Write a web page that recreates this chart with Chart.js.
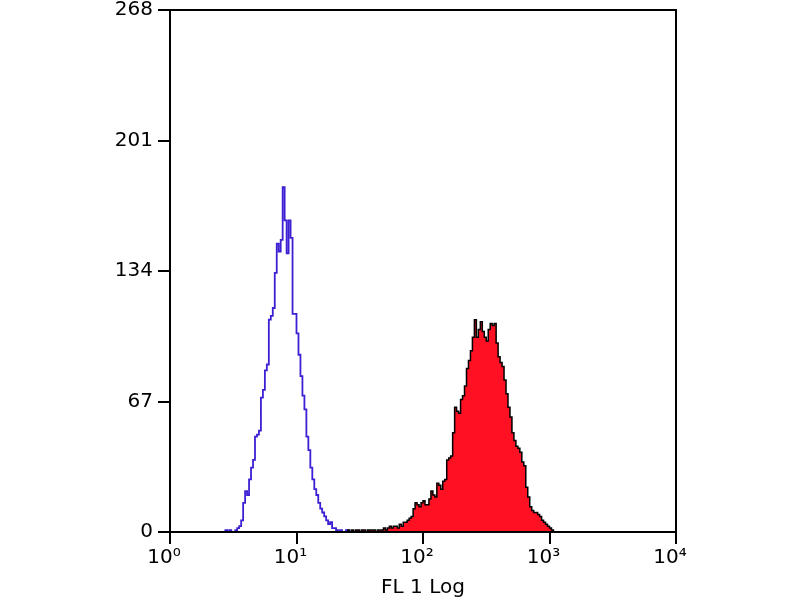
<!DOCTYPE html>
<html lang="en">
<head>
  <meta charset="UTF-8">
  <title>FL 1 Log histogram</title>
  <script src="https://cdn.jsdelivr.net/npm/chart.js"></script>
  <style>
    body {
      margin: 0;
      background-color: #fff;
    }
    canvas {
      display: block;
    }
  </style>
</head>
<body>
  <canvas id="grafico" width="800" height="600"></canvas>

  <script>
    // 256 channels over 4 decades (64 channels per decade)
    const xTickLabels = ['10⁰', '10¹', '10²', '10³', '10⁴'];
    const yTicks = [0, 67, 134, 201, 268];

    // control (blue outline), counts per channel starting at blueStart
    const blueStart = 28;
    const blueCounts = [0, 1, 0, 1, 0, 0, 1, 2, 3, 6, 15, 21, 19, 27, 33, 37, 49, 50, 52, 69,
      73, 83, 86, 109, 111, 115, 133, 148, 144, 150, 177, 160, 143, 160, 151, 112, 112, 102, 91, 80,
      70, 63, 49, 42, 33, 27, 22, 19, 15, 12, 10, 8, 6, 4, 5, 2, 2, 1, 0, 1, 0, 0, 1, 0];

    // stained sample (red fill), counts per channel starting at redStart
    const redStart = 90;
    const redCounts = [0, 1, 0, 1, 0, 1, 1, 0, 1, 1, 0, 1, 1, 1, 1, 0, 1, 1, 1, 2,
      1, 2, 3, 2, 3, 3, 2, 4, 3, 5, 5, 6, 7, 8, 12, 15, 14, 13, 15, 16,
      14, 14, 17, 21, 19, 18, 25, 24, 22, 26, 27, 37, 38, 39, 51, 64, 62, 61, 68, 70,
      75, 84, 88, 93, 100, 109, 100, 104, 108, 103, 100, 98, 104, 107, 106, 107, 97, 90, 87, 85,
      78, 71, 64, 59, 51, 47, 44, 43, 41, 36, 34, 23, 18, 13, 11, 10, 10, 9, 8, 6,
      5, 4, 3, 2, 1, 0];

    function puntos(start, counts) {
      const pts = counts.map((v, i) => ({ x: start + i, y: v }));
      pts.push({ x: start + counts.length, y: 0 });
      return pts;
    }

    const marco = {
      id: 'marco',
      afterDraw(chart) {
        const { ctx, chartArea: a } = chart;
        ctx.save();
        ctx.strokeStyle = '#000';
        ctx.lineWidth = 2;
        ctx.strokeRect(a.left, a.top, a.right - a.left, a.bottom - a.top);
        ctx.restore();
      }
    };

    const fuente = { family: 'DejaVu Sans', size: 20 };

    new Chart(document.getElementById('grafico').getContext('2d'), {
      type: 'line',
      data: {
        datasets: [{
          label: 'sample',
          data: puntos(redStart, redCounts),
          stepped: 'after',
          borderColor: '#000',
          borderWidth: 1.5,
          backgroundColor: '#ff1023',
          fill: 'origin',
          pointRadius: 0
        }, {
          label: 'control',
          data: puntos(blueStart, blueCounts),
          stepped: 'after',
          borderColor: '#3f1fd4',
          borderWidth: 1.8,
          fill: false,
          pointRadius: 0
        }]
      },
      options: {
        responsive: false,
        animation: false,
        layout: { padding: { top: 10, right: 124, left: 0, bottom: 0 } },
        scales: {
          x: {
            type: 'linear',
            min: 0,
            max: 256,
            afterFit(s) { s.height = 68; },
            ticks: {
              stepSize: 64,
              autoSkip: false,
              maxRotation: 0,
              color: '#000',
              font: fuente,
              padding: 2,
              labelOffset: -6,
              callback: (v) => xTickLabels[v / 64]
            },
            grid: { drawOnChartArea: false, drawTicks: true, tickLength: 12, color: '#000', lineWidth: 2 },
            border: { color: '#000', width: 2 },
            title: { display: true, text: 'FL 1 Log', color: '#000', font: fuente, padding: { top: 0, bottom: 0 } }
          },
          y: {
            min: 0,
            max: 268,
            afterFit(s) { s.width = 170; s.paddingTop = 0; s.paddingBottom = 0; },
            afterBuildTicks(s) { s.ticks = yTicks.map(v => ({ value: v })); },
            ticks: { color: '#000', font: fuente, padding: 5 },
            grid: { drawOnChartArea: false, drawTicks: true, tickLength: 12, color: '#000', lineWidth: 2 },
            border: { color: '#000', width: 2 }
          }
        },
        plugins: {
          legend: { display: false },
          tooltip: { enabled: false }
        }
      },
      plugins: [marco]
    });
  </script>
</body>
</html>
